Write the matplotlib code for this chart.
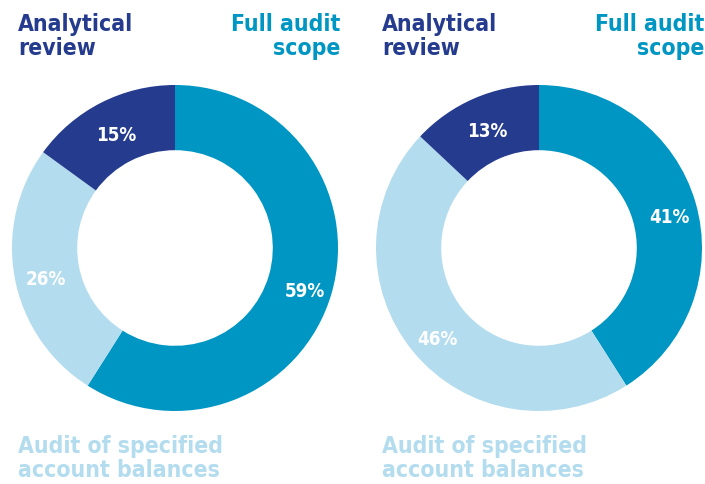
import numpy as np
import matplotlib.pyplot as plt

segments = ["Full audit scope", "Audit of specified account balances", "Analytical review"]
left_shares = [59, 26, 15]
right_shares = [41, 46, 13]
colors = ["#0096c3", "#b3dcee", "#253b8e"]

FONT = ["DejaVu Sans"]

fig = plt.figure(figsize=(7.05, 4.84), dpi=100)
W, H = 705, 484


def donut(cx, cy, r, shares):
    ax = fig.add_axes([(cx - r) / W, (H - cy - r) / H, 2 * r / W, 2 * r / H])
    ax.pie(shares, colors=colors, startangle=90, counterclock=False,
           radius=1, wedgeprops=dict(width=0.4, linewidth=0))
    total = sum(shares)
    start = 90
    for v in shares:
        mid = np.deg2rad(start - v / total * 360 / 2)
        start -= v / total * 360
        rr = 0.82
        ax.text(rr * np.cos(mid) + 0.01, rr * np.sin(mid) - 0.04, f"{v}%",
                ha="center", va="center", color="white", fontsize=13.5,
                fontweight="bold", family=FONT, fontstretch="condensed")
    ax.set_xlim(-1, 1)
    ax.set_ylim(-1, 1)
    ax.set_aspect("equal")
    ax.axis("off")


donut(175, 248, 163, left_shares)
donut(539, 248, 163, right_shares)


def label(x, y, s, color, ha):
    fig.text(x / W, 1 - y / H, s, color=color, ha=ha, va="baseline", fontsize=16.5,
             fontweight="bold", family=FONT, fontstretch="condensed", linespacing=1.05)


for off in (0, 364):
    label(18 + off, 55, "Analytical\nreview", colors[2], "left")
    label(340 + off, 55, "Full audit\nscope", colors[0], "right")
    label(18 + off, 477, "Audit of specified\naccount balances", colors[1], "left")

fig.savefig("out.png", dpi=100)
